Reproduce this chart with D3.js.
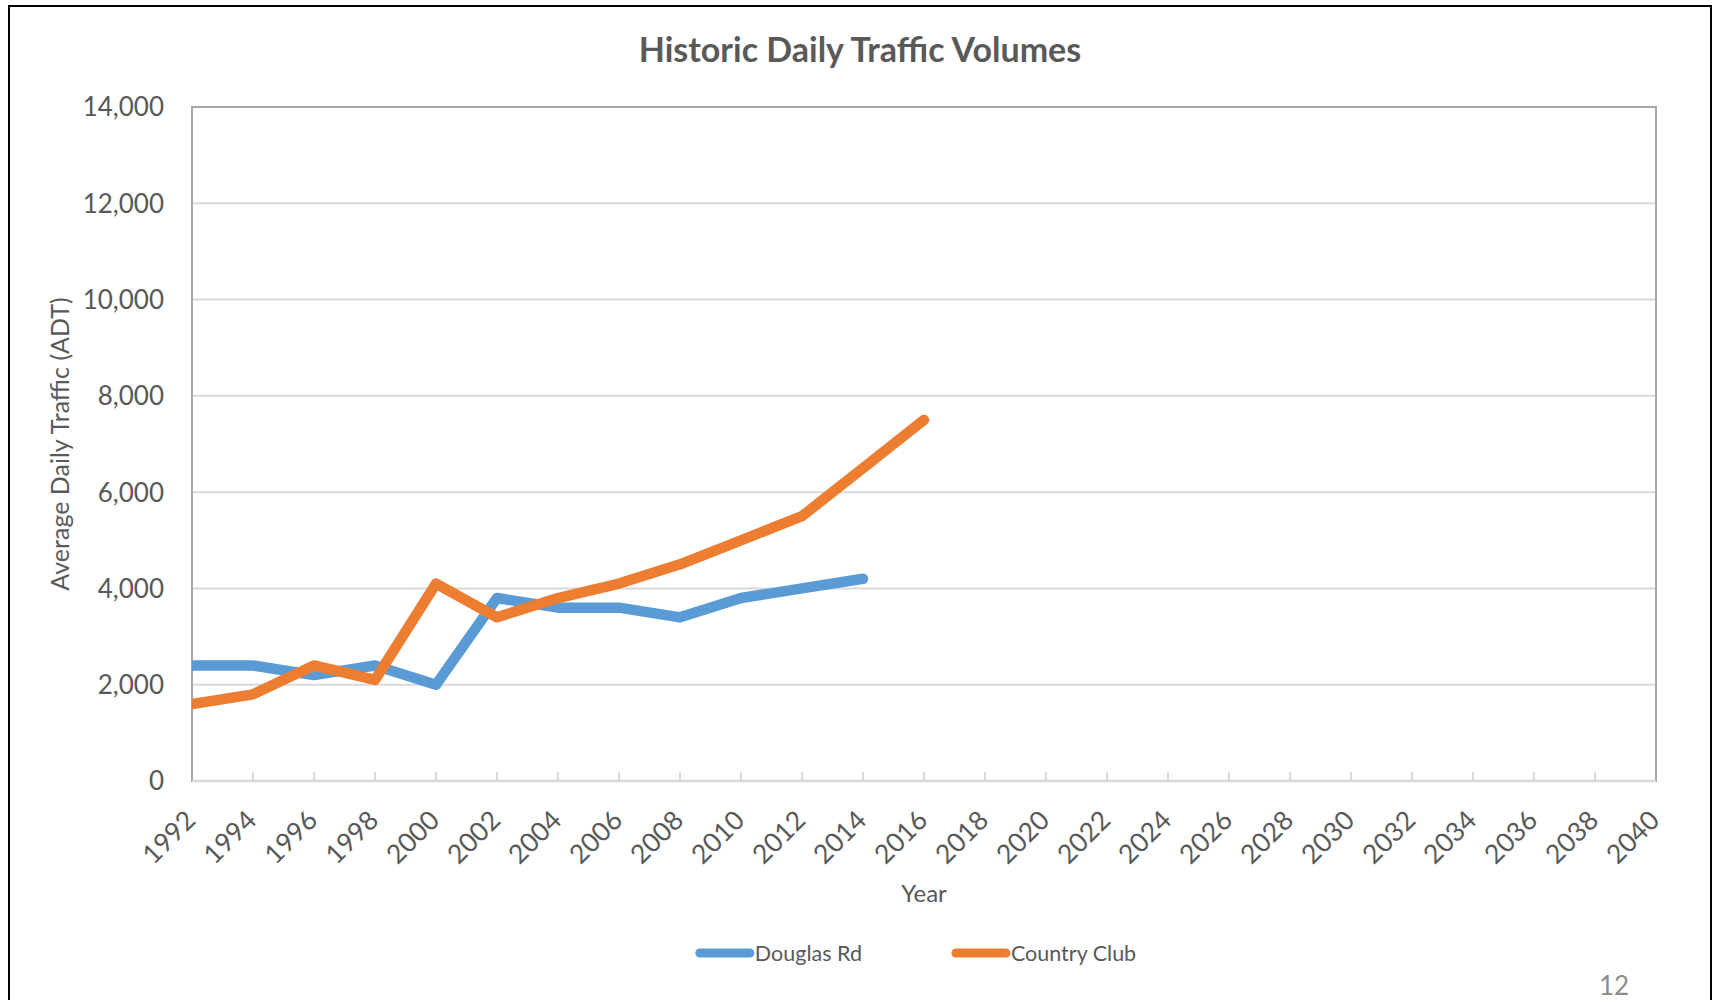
<!DOCTYPE html>
<html>
<head>
<meta charset="utf-8">
<script src="https://cdn.jsdelivr.net/npm/d3@7"></script>
<style>
  html, body { margin: 0; padding: 0; background: #fff; }
  svg { display: block; font-family: Lato, 'Open Sans', sans-serif; }
</style>
</head>
<body>
<svg id="chart" width="1712" height="1000"></svg>
<script>
// tick labels on the category axis
const years = ['1992', '1994', '1996', '1998', '2000', '2002', '2004', '2006', '2008',
  '2010', '2012', '2014', '2016', '2018', '2020', '2022', '2024', '2026', '2028',
  '2030', '2032', '2034', '2036', '2038', '2040']

// ADT counts, one per year starting at 1992
const douglasRd = [2400, 2400, 2200, 2400, 2000, 3800, 3600, 3600, 3400, 3800, 4000, 4200]
const countryClub = [1600, 1800, 2400, 2100, 4100, 3400, 3800, 4100, 4500, 5000, 5500, 6500, 7500]

const yTicks = [0, 2000, 4000, 6000, 8000, 10000, 12000, 14000]

const seriesNames = ['Douglas Rd', 'Country Club']
const seriesColors = ['#5b9bd5', '#ed7d31']

const textColor = '#595959'
const plot = { left: 192, right: 1656, top: 107, bottom: 781 }

const svg = d3.select('#chart')

// outer frame
svg.append('rect')
  .attr('x', 9)
  .attr('y', 6)
  .attr('width', 1702)
  .attr('height', 1010)
  .style('fill', '#fff')
  .style('stroke', '#000')
  .style('stroke-width', 2)

const xScale = d3.scalePoint()
  .domain(years)
  .range([plot.left, plot.right])
  .padding(0)

const yScale = d3.scaleLinear()
  .domain([0, 14000])
  .range([plot.bottom, plot.top])

// gridlines
svg.append('g')
  .attr('class', 'grid')
  .selectAll('line')
  .data(yTicks.slice(1, -1))
  .join('line')
  .attr('x1', plot.left)
  .attr('x2', plot.right)
  .attr('y1', d => yScale(d))
  .attr('y2', d => yScale(d))
  .style('stroke', '#d9d9d9')
  .style('stroke-width', 2)

// plot area border
svg.append('rect')
  .attr('x', plot.left)
  .attr('y', plot.top)
  .attr('width', plot.right - plot.left)
  .attr('height', plot.bottom - plot.top)
  .style('fill', 'none')
  .style('stroke', '#a6a6a6')
  .style('stroke-width', 2)

// x axis line and inside ticks
svg.append('line')
  .attr('x1', plot.left)
  .attr('x2', plot.right)
  .attr('y1', plot.bottom)
  .attr('y2', plot.bottom)
  .style('stroke', '#d9d9d9')
  .style('stroke-width', 2.5)

svg.append('g')
  .attr('class', 'x-ticks')
  .selectAll('line')
  .data(years.slice(1, -1))
  .join('line')
  .attr('x1', d => xScale(d))
  .attr('x2', d => xScale(d))
  .attr('y1', plot.bottom)
  .attr('y2', plot.bottom - 9)
  .style('stroke', '#d9d9d9')
  .style('stroke-width', 2)

// y tick labels
svg.append('g')
  .attr('class', 'y-labels')
  .selectAll('text')
  .data(yTicks)
  .join('text')
  .attr('x', plot.left - 28)
  .attr('y', d => yScale(d))
  .attr('dy', '0.36em')
  .attr('text-anchor', 'end')
  .style('font-size', '26px')
  .style('fill', textColor)
  .text(d => d3.format(',')(d))

// x tick labels, rotated
svg.append('g')
  .attr('class', 'x-labels')
  .selectAll('text')
  .data(years)
  .join('text')
  .attr('transform', d => `translate(${xScale(d) + 5},${plot.bottom + 41}) rotate(-45)`)
  .attr('text-anchor', 'end')
  .style('font-size', '26.5px')
  .style('fill', textColor)
  .text(d => d)

// titles
svg.append('text')
  .attr('x', 860)
  .attr('y', 62)
  .attr('text-anchor', 'middle')
  .style('font-size', '34px')
  .style('font-weight', 'bold')
  .style('fill', textColor)
  .text('Historic Daily Traffic Volumes')

svg.append('text')
  .attr('transform', `translate(69,${(plot.top + plot.bottom) / 2}) rotate(-90)`)
  .attr('text-anchor', 'middle')
  .style('font-size', '25px')
  .style('fill', textColor)
  .text('Average Daily Traffic (ADT)')

svg.append('text')
  .attr('x', (plot.left + plot.right) / 2)
  .attr('y', 902)
  .attr('text-anchor', 'middle')
  .style('font-size', '24px')
  .style('fill', textColor)
  .text('Year')

// series
svg.append('clipPath')
  .attr('id', 'plot-clip')
  .append('rect')
  .attr('x', plot.left)
  .attr('y', plot.top - 10)
  .attr('width', plot.right - plot.left + 10)
  .attr('height', plot.bottom - plot.top + 10)

const line = d3.line()
  .x((d, i) => xScale(years[i]))
  .y(d => yScale(d))

svg.append('g')
  .attr('clip-path', 'url(#plot-clip)')
  .selectAll('path')
  .data([douglasRd, countryClub])
  .join('path')
  .attr('d', d => line(d))
  .style('fill', 'none')
  .style('stroke', (d, i) => seriesColors[i])
  .style('stroke-width', 10.5)
  .style('stroke-linejoin', 'round')
  .style('stroke-linecap', 'round')

// legend
const legend = svg.append('g').attr('class', 'legend')
const items = legend.selectAll('g')
  .data(seriesNames)
  .join('g')

items.append('line')
  .attr('x1', 4)
  .attr('x2', 54)
  .attr('y1', 0)
  .attr('y2', 0)
  .style('stroke', (d, i) => seriesColors[i])
  .style('stroke-width', 9)
  .style('stroke-linecap', 'round')

items.append('text')
  .attr('x', 59)
  .attr('y', 7.5)
  .style('font-size', '21.5px')
  .style('fill', textColor)
  .text(d => d)

let offset = 0
const widths = []
items.each(function (d, i) {
  const w = 59 + this.querySelector('text').getComputedTextLength()
  widths.push(offset)
  offset += w + 90
})
const total = offset - 90
const legendLeft = (plot.left + plot.right) / 2 - total / 2 - 8
items.attr('transform', (d, i) => `translate(${legendLeft + widths[i]},953)`)

// page number
svg.append('text')
  .attr('x', 1614)
  .attr('y', 995)
  .attr('text-anchor', 'middle')
  .style('font-size', '26px')
  .style('fill', '#8c8c8c')
  .text('12')
</script>
</body>
</html>
